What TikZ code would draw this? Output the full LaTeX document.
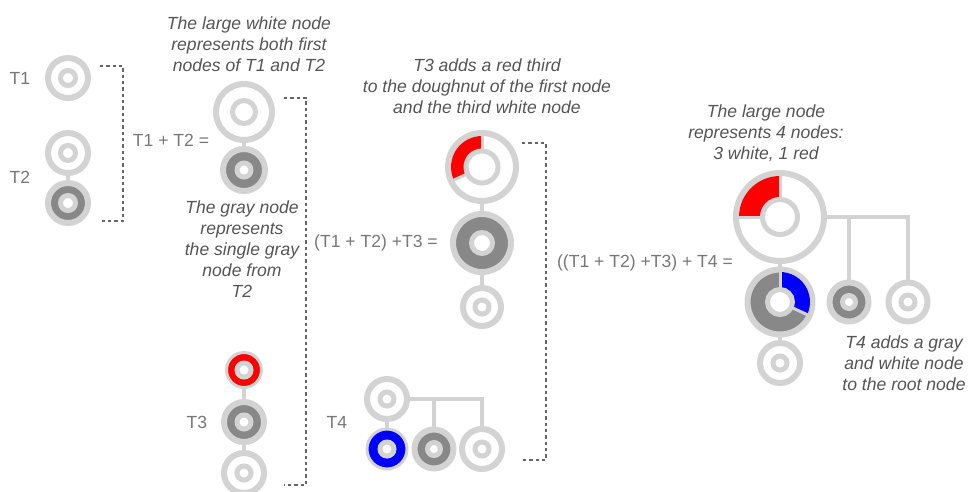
\documentclass[tikz,border=0pt]{standalone}
\usepackage{fontspec}
\setmainfont{Liberation Sans}
\usepackage{tikz}
\usetikzlibrary{calc}
\definecolor{ColRing}{RGB}{211,211,211}
\definecolor{ColDark}{RGB}{136,136,136}
\definecolor{ColRed}{RGB}{255,0,0}
\definecolor{ColBlue}{RGB}{0,0,255}
\definecolor{ColLabel}{RGB}{119,119,119}
\definecolor{ColNote}{RGB}{85,85,85}
\definecolor{ColDash}{RGB}{102,102,102}

% doughnut: [slice code] name, centre, outer radius, hole radius, options
\newcommand{\Donut}[6][]{%
  \node[ring, #6, minimum size=#4*0.04cm] (#2) at (#3) {};
  #1%
  \node[hole, minimum size=#5*0.04cm] (#2-h) at (#2) {};
}
% coloured part of a doughnut: node, from, to, inner, outer, colour
\newcommand{\Slice}[6]{%
  \fill[#6] ($(#1)+(#2:#4)$) arc[start angle=#2, end angle=#3, radius=#4]
    -- ($(#1)+(#3:#5)$) arc[start angle=#3, end angle=#2, radius=#5] -- cycle;
  \draw[sep] ($(#1)+(#2:#4)$) -- ($(#1)+(#2:#5+3)$);
  \draw[sep] ($(#1)+(#3:#4)$) -- ($(#1)+(#3:#5+3)$);
}

\begin{document}
\begin{tikzpicture}[
  x=0.02cm, y=0.02cm,
  line cap=butt,
  every node/.style={font=\fontsize{10}{11.9}\selectfont},
  ring/.style={circle, draw=ColRing, fill=white, line width=0.12cm, inner sep=0pt},
  thin/.style={line width=0.06cm},
  hole/.style={circle, draw=ColRing, fill=white, line width=0.1cm, inner sep=0pt},
  sep/.style={draw=ColRing, line width=0.06cm},
  link/.style={draw=ColRing, line width=0.08cm},
  bracket/.style={draw=ColDash, line width=0.6pt, dash pattern=on 1.9pt off 1.7pt},
  lbl/.style={text=ColLabel},
  note/.style={text=ColNote, align=center, font=\fontsize{10}{11.9}\selectfont\itshape}
]
  \useasboundingbox (0,0) rectangle (968,-491);
  \clip (0,0) rectangle (968,-491);

  % T1 and T2
  \Donut{t1a}{68,-78}{20}{7.5}{}
  \Donut{t2a}{68,-153}{20}{7.5}{}
  \Donut{t2b}{68,-203}{20}{7.5}{fill=ColDark}
  \draw[link] (t2a) -- (t2b);
  \node[lbl] (l1) at (20,-78) {T1};
  \node[lbl] (l2) at (20,-177) {T2};
  \coordinate (b1top) at (100,-66);
  \coordinate (b1bot) at (100,-221);
  \draw[bracket] (b1top) -- ++(23,0) |- (b1bot);

  % T1 + T2
  \node[lbl] (e1) at (171,-140) {T1 + T2 =};
  \Donut{s1a}{244,-112}{28}{11.5}{}
  \Donut{s1b}{244,-170}{21}{7}{fill=ColDark}
  \draw[link] (s1a) -- (s1b);
  \node[note] (n1) at (249,-44) {The large white node\\represents both first\\nodes of T1 and T2};
  \node[note] (n2) at (242,-249) {The gray node\\represents\\the single gray\\node from\\T2};

  % T3
  \Donut{t3a}{244,-370}{17.5}{7}{thin, fill=ColRed}
  \Donut{t3b}{244,-422}{20}{7}{fill=ColDark}
  \Donut{t3c}{244,-473}{20}{7}{}
  \draw[link] (t3a) -- (t3b);
  \draw[link] (t3b) -- (t3c);
  \node[lbl] (l3) at (197,-422) {T3};
  \coordinate (b2top) at (284,-98);
  \coordinate (b2bot) at (284,-485);
  \draw[bracket] (b2top) -- ++(22,0) |- (b2bot);

  % (T1 + T2) + T3
  \node[lbl] (e2) at (376,-243) {(T1 + T2) +T3 =};
  \Donut[\Slice{s2a}{90}{205}{16}{31}{ColRed}]{s2a}{482,-167}{34}{16}{}
  \Donut{s2b}{482,-243}{29}{10.5}{fill=ColDark}
  \Donut{s2c}{482,-307}{19}{7}{}
  \draw[link] (s2a) -- (s2b);
  \draw[link] (s2b) -- (s2c);
  \node[note] (n3) at (487,-86) {T3 adds a red third\\to the doughnut of the first node\\and the third white node};

  % T4
  \Donut{t4a}{387,-399}{20}{7}{}
  \Donut{t4b}{387,-449}{20}{7}{thin, fill=ColBlue}
  \Donut{t4c}{434,-449}{19.5}{6.5}{fill=ColDark}
  \Donut{t4d}{482,-449}{20}{7}{}
  \draw[link] (t4a) -- (t4b);
  \draw[link] (t4a.east) -| (t4c.north);
  \draw[link] (t4a.east) -| (t4d.north);
  \node[lbl] (l4) at (337,-422) {T4};
  \coordinate (b3top) at (522,-143);
  \coordinate (b3bot) at (522,-460);
  \draw[bracket] (b3top) -- ++(24,0) |- (b3bot);

  % ((T1 + T2) + T3) + T4
  \node[lbl] (e3) at (645,-263) {((T1 + T2) +T3) + T4 =};
  \Donut[\Slice{s3a}{90}{180}{17.5}{41}{ColRed}]{s3a}{780,-217}{44}{17.5}{}
  \Donut[\Slice{s3b}{90}{-25}{12.5}{30}{ColBlue}]{s3b}{780,-302}{32.5}{12.5}{fill=ColDark}
  \Donut{s3c}{780,-363}{20}{7}{}
  \Donut{s3d}{849,-302}{19.5}{6.5}{fill=ColDark}
  \Donut{s3e}{908,-302}{19.5}{7}{}
  \draw[link] (s3a) -- (s3b);
  \draw[link] (s3b) -- (s3c);
  \draw[link] (s3a.east) -| (s3d.north);
  \draw[link] (s3a.east) -| (s3e.north);
  \node[note] (n4) at (766,-133) {The large node\\represents 4 nodes:\\3 white, 1 red};
  \node[note] (n5) at (904,-363) {T4 adds a gray\\and white node\\to the root node};
\end{tikzpicture}
\end{document}
